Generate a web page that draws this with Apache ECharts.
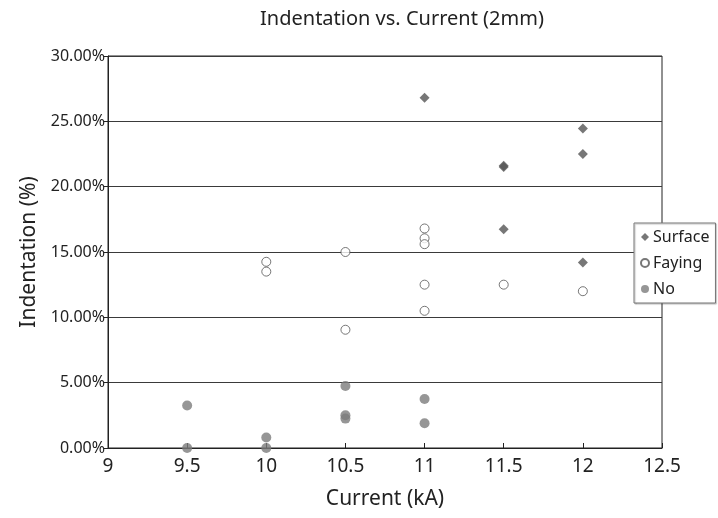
<!DOCTYPE html>
<html>
<head>
<meta charset="utf-8">
<script src="https://cdn.jsdelivr.net/npm/echarts@6/dist/echarts.min.js"></script>
<style>
  html, body { margin: 0; padding: 0; background: #fff; }
  #chart { width: 718px; height: 518px; }
</style>
</head>
<body>
<div id="chart"></div>
<script>
// Current (kA) and indentation (%) for each fracture location
const surfaceCurrent = [11, 11.5, 11.5, 11.5, 12, 12, 12];
const surfaceIndent  = [26.8, 21.5, 21.6, 16.75, 24.45, 22.5, 14.2];

const fayingCurrent = [10, 10, 10.5, 10.5, 11, 11, 11, 11, 11, 11.5, 12];
const fayingIndent  = [14.25, 13.5, 15.0, 9.05, 16.8, 16.05, 15.6, 12.5, 10.5, 12.5, 12.0];

const noCurrent = [9.5, 9.5, 10, 10, 10.5, 10.5, 10.5, 11, 11];
const noIndent  = [3.25, 0, 0.8, 0, 4.75, 2.5, 2.25, 3.75, 1.9];

const yTicks = [0, 5, 10, 15, 20, 25, 30];

const pairs = (xs, ys) => xs.map((x, i) => [x, ys[i]]);
const FONT = '"Noto Sans", "Open Sans", sans-serif';

const chart = echarts.init(document.getElementById('chart'), null, { renderer: 'canvas' });
chart.setOption({
  animation: false,
  backgroundColor: '#ffffff',
  title: {
    text: 'Indentation vs. Current (2mm)',
    left: 397,
    top: 4,
    textAlign: 'center',
    textStyle: { fontFamily: FONT, fontSize: 20, fontWeight: 'normal', color: '#222' }
  },
  grid: {
    left: 108, right: 56, top: 56, bottom: 70,
    outerBoundsMode: 'none',
    containLabel: false,
    show: true, borderColor: '#222', borderWidth: 1
  },
  legend: {
    orient: 'vertical',
    left: 634, top: 223,
    itemWidth: 8, itemHeight: 8, itemGap: 10,
    padding: [6, 6, 6, 6],
    backgroundColor: '#fff',
    borderColor: '#777', borderWidth: 1,
    shadowColor: 'rgba(0,0,0,0.25)', shadowOffsetX: 1, shadowOffsetY: 1, shadowBlur: 1,
    textStyle: { fontFamily: FONT, fontSize: 16, color: '#222', padding: [0, 0, 0, -1] },
    data: ['Surface', 'Faying', 'No']
  },
  xAxis: {
    type: 'value',
    min: 9, max: 12.5, interval: 0.5,
    name: 'Current (kA)',
    nameLocation: 'middle', nameGap: 41,
    nameTextStyle: { fontFamily: FONT, fontSize: 21, color: '#222' },
    axisLine: { show: true, lineStyle: { color: '#222', width: 1 } },
    axisTick: { show: true, inside: true, length: 5, lineStyle: { color: '#222' } },
    axisLabel: { fontFamily: FONT, fontSize: 19, color: '#222', margin: 9 },
    splitLine: { show: false }
  },
  yAxis: {
    type: 'value',
    min: yTicks[0], max: yTicks[yTicks.length - 1], interval: 5,
    name: 'Indentation (%)',
    nameLocation: 'middle', nameGap: 68,
    nameTextStyle: { fontFamily: FONT, fontSize: 21, color: '#222' },
    axisLine: { show: true, lineStyle: { color: '#222', width: 1 } },
    axisTick: { show: true, length: 4, lineStyle: { color: '#222' } },
    axisLabel: {
      fontFamily: FONT, fontSize: 16, color: '#222', margin: 3,
      formatter: v => v.toFixed(2) + '%'
    },
    splitLine: { show: true, lineStyle: { color: '#3a3a3a', width: 1.2 } }
  },
  series: [
    {
      name: 'Surface', type: 'scatter', symbol: 'diamond', symbolSize: 10,
      itemStyle: { color: '#555555' },
      data: pairs(surfaceCurrent, surfaceIndent), z: 3
    },
    {
      name: 'Faying', type: 'scatter', symbol: 'circle', symbolSize: 9,
      itemStyle: { color: '#ffffff', borderColor: '#555555', borderWidth: 1 },
      data: pairs(fayingCurrent, fayingIndent), z: 2
    },
    {
      name: 'No', type: 'scatter', symbol: 'circle', symbolSize: 10,
      itemStyle: { color: '#7c7c7c' },
      data: pairs(noCurrent, noIndent), z: 2
    }
  ]
});
</script>
</body>
</html>
